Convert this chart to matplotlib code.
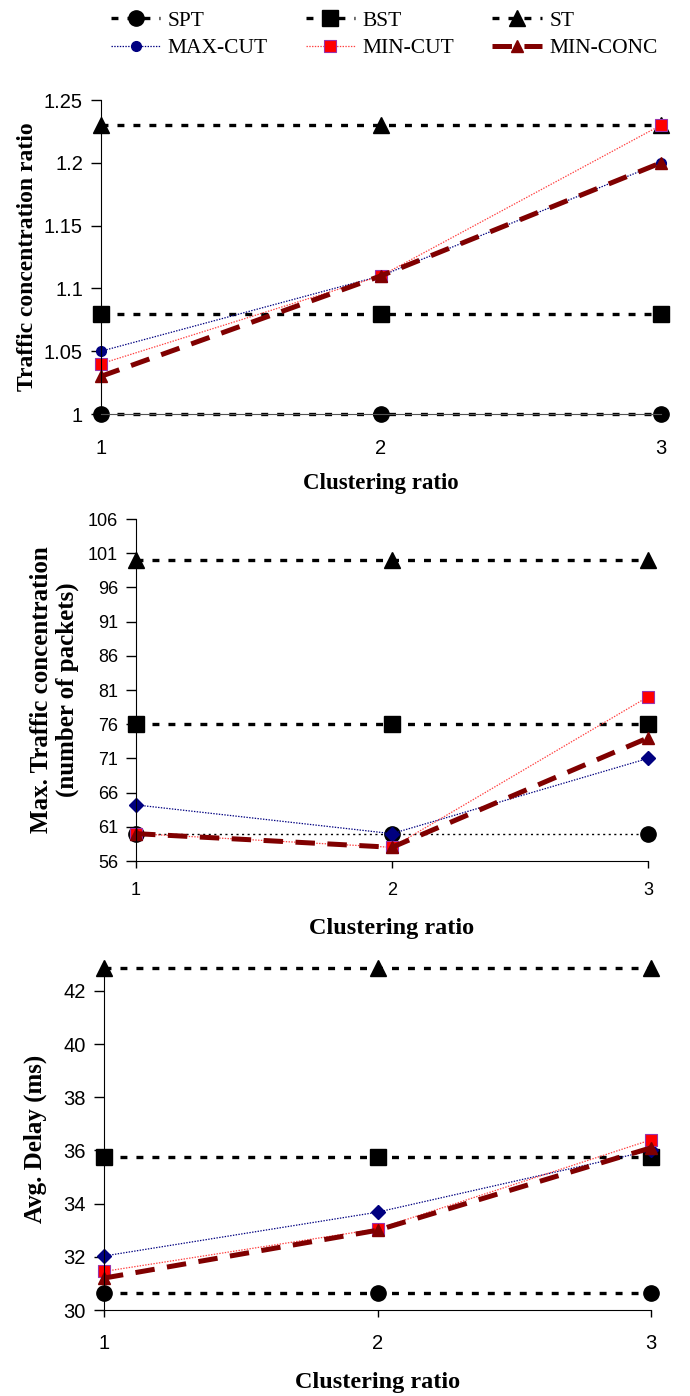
import matplotlib
matplotlib.use("Agg")
import matplotlib.pyplot as plt

plt.rcParams['lines.scale_dashes'] = False

x = [1, 2, 3]
series = ['SPT', 'BST', 'ST', 'MAX-CUT', 'MIN-CUT', 'MIN-CONC']

# traffic concentration ratio
ratio_spt = [1.0, 1.0, 1.0]
ratio_bst = [1.08, 1.08, 1.08]
ratio_st = [1.23, 1.23, 1.23]
ratio_maxcut = [1.05, 1.11, 1.20]
ratio_mincut = [1.04, 1.11, 1.23]
ratio_minconc = [1.03, 1.11, 1.20]

# max traffic concentration (packets)
conc_spt = [60, 60, 60]
conc_bst = [76, 76, 76]
conc_st = [100, 100, 100]
conc_maxcut = [64.2, 60, 71]
conc_mincut = [60, 58, 80]
conc_minconc = [60, 58, 74]

# avg delay (ms)
delay_spt = [30.65, 30.65, 30.65]
delay_bst = [35.77, 35.77, 35.77]
delay_st = [42.85, 42.85, 42.85]
delay_maxcut = [32.03, 33.68, 36.0]
delay_mincut = [31.45, 33.05, 36.4]
delay_minconc = [31.2, 33.0, 36.1]

SANS = 'Liberation Sans'
SERIF = 'Liberation Serif'


def styles(cut_marker, spt_thin=False):
    spt = dict(color='black', lw=1.0 if spt_thin else 2.4,
               dashes=(1.5, 2.5) if spt_thin else (5, 6.5),
               marker='o', ms=11, mfc='black', mec='black')
    bst = dict(color='black', lw=2.4, dashes=(5, 6.5), marker='s', ms=11,
               mfc='black', mec='black')
    st = dict(color='black', lw=2.4, dashes=(5, 6.5), marker='^', ms=11,
              mfc='black', mec='black')
    maxcut = dict(color='#000080', lw=0.9, dashes=(1, 1), marker=cut_marker,
                  ms=7, mfc='#000080', mec='#000080')
    mincut = dict(color='#ff4040', lw=0.9, dashes=(1, 1), marker='s', ms=8,
                  mfc='#ff0000', mec='#9933aa', mew=0.8)
    minconc = dict(color='#800000', lw=3.6, dashes=(14, 9), marker='^', ms=9,
                   mfc='#800000', mec='#800000')
    return [spt, bst, st, maxcut, mincut, minconc]


def panel(ax, data, kw, ylim, yticks, ytick_fmt, tick_size, xtick_len):
    lines = []
    for y, name, k in zip(data, series, kw):
        ln, = ax.plot(x, y, label=name, clip_on=False, **k)
        lines.append(ln)
    ax.set_xlim(1, 3)
    ax.set_ylim(*ylim)
    ax.set_xticks(x)
    ax.set_yticks(yticks)
    ax.set_yticklabels([ytick_fmt(v) for v in yticks], fontfamily=SANS, fontsize=tick_size)
    ax.set_xticklabels([str(v) for v in x], fontfamily=SANS, fontsize=tick_size)
    ax.spines['top'].set_visible(False)
    ax.spines['right'].set_visible(False)
    ax.tick_params(axis='y', direction='out', length=7, width=1, pad=6)
    ax.tick_params(axis='x', direction='out', length=xtick_len, width=1, pad=18)
    return lines


fig = plt.figure(figsize=(6.9, 13.96), dpi=100)

# panel 1
ax1 = fig.add_axes([101 / 690, 1 - 414 / 1396, 560 / 690, 314 / 1396])
lines = panel(ax1, [ratio_spt, ratio_bst, ratio_st, ratio_maxcut, ratio_mincut, ratio_minconc],
              styles('o'), (1.0, 1.25), [1, 1.05, 1.1, 1.15, 1.2, 1.25],
              lambda v: f'{v:g}', 14.5, 0)
ax1.spines['bottom'].set_color('#555555')
ax1.set_xlabel('Clustering ratio', fontfamily=SERIF, fontweight='bold', fontsize=16.5, labelpad=11)
ax1.set_ylabel('Traffic concentration ratio', fontfamily=SERIF, fontweight='bold', fontsize=17, labelpad=4)

# panel 2
ax2 = fig.add_axes([136 / 690, 1 - 861 / 1396, 512 / 690, 342 / 1396])
panel(ax2, [conc_spt, conc_bst, conc_st, conc_maxcut, conc_mincut, conc_minconc],
      styles('D', spt_thin=True), (56, 106), list(range(56, 107, 5)),
      lambda v: str(v), 13, 5)
ax2.tick_params(axis='x', pad=10)
ax2.set_xlabel('Clustering ratio', fontfamily=SERIF, fontweight='bold', fontsize=17.5, labelpad=14)
ax2.set_ylabel('Max. Traffic concentration\n(number of packets)', fontfamily=SERIF,
               fontweight='bold', fontsize=18, labelpad=6, linespacing=1.15)

# panel 3
ax3 = fig.add_axes([104 / 690, 1 - 1310 / 1396, 547 / 690, 343 / 1396])
panel(ax3, [delay_spt, delay_bst, delay_st, delay_maxcut, delay_mincut, delay_minconc],
      styles('D'), (30, 42.9), list(range(30, 43, 2)),
      lambda v: str(v), 14.5, 5)
ax3.tick_params(axis='x', pad=12)
ax3.set_xlabel('Clustering ratio', fontfamily=SERIF, fontweight='bold', fontsize=17.5, labelpad=14)
ax3.set_ylabel('Avg. Delay (ms)', fontfamily=SERIF, fontweight='bold', fontsize=18, labelpad=12)

# legend at top, column-major order for 3 columns
order = [0, 3, 1, 4, 2, 5]
fig.legend([lines[i] for i in order], [series[i] for i in order], ncol=3,
           loc='upper left', bbox_to_anchor=(100 / 690, 1.0), frameon=False,
           prop={'family': SERIF, 'size': 15.5}, handlelength=2.3,
           columnspacing=1.75, handletextpad=0.35, labelspacing=0.35,
           borderaxespad=0.1)

fig.savefig('out.png', dpi=100)
